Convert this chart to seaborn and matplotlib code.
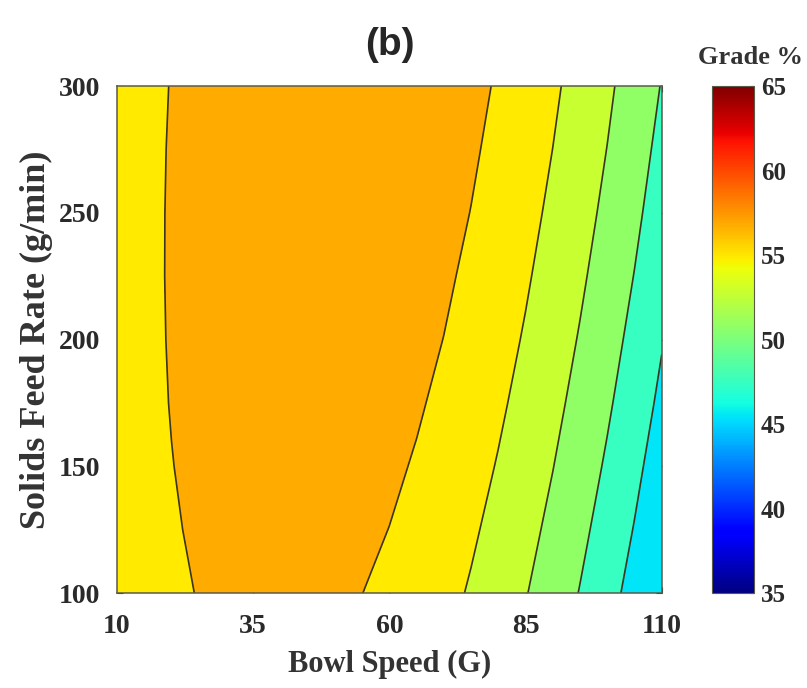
import numpy as np
import pandas as pd
import matplotlib
matplotlib.use("Agg")
import matplotlib.pyplot as plt
import seaborn as sns

# Grid: bowl speed (G) across, feed rate down.
bowl_speed = [10, 15, 20, 25, 30, 35, 40, 45, 50, 55, 60,
              65, 70, 75, 80, 85, 90, 95, 100, 105, 110]
feed_rate = [100, 125, 150, 175, 200, 225, 250, 275, 300]

# Grade % at each grid node, one list per feed rate.
grade_100 = [54.64, 55.22, 55.69, 56.06, 56.32, 56.47, 56.52, 56.46, 56.29,
             56.01, 55.63, 55.13, 54.53, 53.83, 53.01, 52.09, 51.06, 49.92,
             48.68, 47.32, 45.86]
grade_125 = [54.73, 55.34, 55.84, 56.23, 56.52, 56.70, 56.77, 56.73, 56.59,
             56.34, 55.98, 55.51, 54.94, 54.25, 53.47, 52.57, 51.56, 50.45,
             49.23, 47.91, 46.47]
grade_150 = [54.80, 55.44, 55.96, 56.38, 56.69, 56.90, 56.99, 56.98, 56.86,
             56.64, 56.30, 55.86, 55.31, 54.66, 53.89, 53.02, 52.04, 50.96,
             49.76, 48.46, 47.05]
grade_175 = [54.85, 55.51, 56.06, 56.50, 56.84, 57.07, 57.19, 57.20, 57.11,
             56.91, 56.60, 56.18, 55.66, 55.03, 54.29, 53.45, 52.49, 51.43,
             50.26, 48.99, 47.61]
grade_200 = [54.85, 55.54, 56.12, 56.59, 56.95, 57.20, 57.35, 57.39, 57.32,
             57.15, 56.86, 56.47, 55.98, 55.37, 54.66, 53.84, 52.91, 51.87,
             50.73, 49.48, 48.12]
grade_225 = [54.83, 55.55, 56.15, 56.64, 57.03, 57.31, 57.48, 57.55, 57.51,
             57.36, 57.10, 56.74, 56.26, 55.68, 55.00, 54.20, 53.30, 52.29,
             51.17, 49.95, 48.62]
grade_250 = [54.79, 55.53, 56.15, 56.68, 57.09, 57.39, 57.59, 57.68, 57.67,
             57.54, 57.31, 56.97, 56.53, 55.97, 55.31, 54.54, 53.66, 52.68,
             51.59, 50.39, 49.08]
grade_275 = [54.71, 55.47, 56.13, 56.67, 57.11, 57.44, 57.67, 57.78, 57.79,
             57.69, 57.49, 57.17, 56.75, 56.22, 55.59, 54.84, 53.99, 53.03,
             51.97, 50.79, 49.51]
grade_300 = [54.60, 55.39, 56.07, 56.64, 57.11, 57.46, 57.71, 57.85, 57.89,
             57.82, 57.63, 57.35, 56.95, 56.45, 55.84, 55.12, 54.29, 53.36,
             52.32, 51.17, 49.92]

# Contour levels and the grade shown by each filled band.
levels = [45, 48, 50, 52, 54, 56, 58]
band_grades = [45.5, 47.5, 50.8, 52.7, 54.9, 56.8]

x_ticks = [10, 35, 60, 85, 110]
y_ticks = [100, 150, 200, 250, 300]
cbar_ticks = [35, 40, 45, 50, 55, 60, 65]

grid = pd.DataFrame([grade_100, grade_125, grade_150, grade_175, grade_200,
                     grade_225, grade_250, grade_275, grade_300],
                    index=feed_rate, columns=bowl_speed)

sns.set_style("ticks")
plt.rcParams["font.family"] = ["Liberation Serif", "DejaVu Serif"]
plt.rcParams["font.weight"] = "bold"

norm = matplotlib.colors.Normalize(vmin=35, vmax=65)
cmap = plt.get_cmap("jet")
band_colours = [cmap(norm(g)) for g in band_grades]

fig = plt.figure(figsize=(8.07, 6.88), dpi=100)
ax = fig.add_axes([0.145, 0.138, 0.675, 0.737])

ax.contourf(grid.columns, grid.index, grid.values, levels=levels,
            colors=band_colours)
ax.contour(grid.columns, grid.index, grid.values, levels=levels[1:-1],
           colors="#3a3520", linewidths=1.2)

ax.set_xlim(10, 110)
ax.set_ylim(100, 300)
ax.set_xticks(x_ticks)
ax.set_yticks(y_ticks)
ax.tick_params(direction="in", length=4, top=True, right=True,
               labelsize=20, colors="#2a2a2a", pad=12)
ax.tick_params(axis="x", pad=15)
for s in ax.spines.values():
    s.set_color("#5a5a4a")
    s.set_linewidth(1.1)

ax.set_xlabel("Bowl Speed (G)", fontsize=22, fontweight="bold",
              color="#333333", labelpad=8)
ax.set_ylabel("Solids Feed Rate (g/min)", fontsize=26, fontweight="bold",
              color="#333333", labelpad=4)
ax.set_title("(b)", fontsize=28, fontweight="bold", pad=22,
             family=["Liberation Sans", "DejaVu Sans"])

# Colorbar with the full jet scale.
cax = fig.add_axes([0.882, 0.138, 0.052, 0.737])
sm = matplotlib.cm.ScalarMappable(norm=norm, cmap=cmap)
cbar = fig.colorbar(sm, cax=cax, ticks=cbar_ticks)
cbar.ax.tick_params(direction="in", length=3, labelsize=18, pad=5,
                    colors="#2a2a2a")
cbar.outline.set_edgecolor("#5a5a4a")
fig.text(750 / 807, 1 - 57 / 688, "Grade %", fontsize=19, fontweight="bold",
         ha="center", va="center", color="#333333")

fig.savefig("out.png", dpi=100)
